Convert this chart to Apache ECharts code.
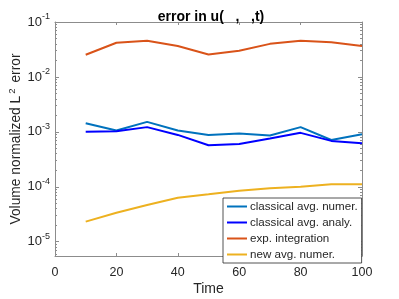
<!DOCTYPE html>
<html>
<head>
<meta charset="utf-8">
<script src="https://cdn.jsdelivr.net/npm/echarts@6/dist/echarts.min.js"></script>
<style>html,body{margin:0;padding:0;background:#fff}#c{width:399px;height:299px}</style>
</head>
<body>
<div id="c"></div>
<script>
var times = [10, 20, 30, 40, 50, 60, 70, 80, 90, 100];
var classicalNumer = [1.44e-3, 1.06e-3, 1.52e-3, 1.06e-3, 8.8e-4, 9.3e-4, 8.6e-4, 1.22e-3, 7.1e-4, 9.05e-4];
var classicalAnaly = [1.0e-3, 1.03e-3, 1.22e-3, 8.8e-4, 5.7e-4, 6.0e-4, 7.55e-4, 9.6e-4, 6.85e-4, 6.2e-4];
var expIntegration = [0.0253, 0.042, 0.0456, 0.0365, 0.0257, 0.030, 0.040, 0.0456, 0.0426, 0.0365];
var newAvgNumer = [2.32e-5, 3.38e-5, 4.67e-5, 6.34e-5, 7.3e-5, 8.5e-5, 9.4e-5, 1.0e-4, 1.11e-4, 1.11e-4];
var seriesNames = ['classical avg. numer.', 'classical avg. analy.', 'exp. integration', 'new avg. numer.'];
var xTicks = [0, 20, 40, 60, 80, 100];
var yMajor = [1e-5, 1e-4, 1e-3, 1e-2, 1e-1];
var yMin = 5.5e-6, yMax = 0.1;

var yMinor = [];
for (var e = -6; e <= -2; e++) {
  for (var k = 2; k <= 9; k++) {
    var v = k * Math.pow(10, e);
    if (v > yMin && v < yMax) yMinor.push(v);
  }
}

function pairs(ys) { return times.map(function (t, i) { return [t, ys[i]]; }); }

var axisGray = '#8c8c8c';
var textCol = '#262626';
var font = 'Liberation Sans, Arial, sans-serif';

function yAx(pos, ticks, len, showLine, showLabel) {
  return {
    type: 'log', position: pos, min: yMin, max: yMax, logBase: 10,
    axisLine: { show: showLine, lineStyle: { color: axisGray, width: 1 } },
    axisTick: { show: true, inside: true, length: len, customValues: ticks, lineStyle: { color: axisGray } },
    splitLine: { show: false },
    axisLabel: {
      show: showLabel, customValues: yMajor, margin: 5, color: textCol, fontFamily: font,
      formatter: function (val) {
        var ex = Math.round(Math.log10(val));
        return '{b|10}{s|' + ex + '}';
      },
      rich: {
        b: { fontSize: 13, fontFamily: font, color: textCol },
        s: { fontSize: 9, fontFamily: font, color: textCol, verticalAlign: 'bottom', padding: [0, 0, 10, 0] }
      }
    }
  };
}

var chart = echarts.init(document.getElementById('c'), null, { renderer: 'canvas' });
chart.setOption({
  animation: false,
  backgroundColor: '#fff',
  title: {
    text: 'error in u(   ,   ,t)', left: 206, top: 5, textAlign: 'center',
    textStyle: { fontSize: 14, fontWeight: 'bold', color: '#000', fontFamily: font }
  },
  grid: { left: 55, right: 37, top: 22, bottom: 43, containLabel: false, outerBoundsMode: 'none' },
  legend: {
    data: seriesNames, orient: 'vertical', left: 223, top: 198,
    backgroundColor: '#fff', borderColor: '#262626', borderWidth: 0.8,
    padding: [2, 4, 2, 4], itemGap: 3, itemWidth: 20, itemHeight: 2, icon: 'rect',
    textStyle: { fontSize: 11.6, fontFamily: font, color: textCol, lineHeight: 13, padding: [0, 0, 0, -2] }
  },
  xAxis: [{
    type: 'value', min: 0, max: 100, interval: 20, position: 'bottom',
    name: 'Time', nameLocation: 'middle', nameGap: 26, nameMoveOverlap: false,
    nameTextStyle: { fontSize: 14, color: textCol, fontFamily: font },
    axisLine: { lineStyle: { color: axisGray } },
    axisTick: { inside: true, length: 3, lineStyle: { color: axisGray } },
    splitLine: { show: false },
    axisLabel: { fontSize: 12.5, color: textCol, fontFamily: font, margin: 10 }
  }, {
    type: 'value', min: 0, max: 100, interval: 20, position: 'top',
    axisLine: { show: true, lineStyle: { color: axisGray } },
    axisTick: { inside: true, length: 3, lineStyle: { color: axisGray } },
    splitLine: { show: false }, axisLabel: { show: false }
  }],
  yAxis: [
    (function () {
      var a = yAx('left', yMajor, 4, true, true);
      a.name = 'Volume normalized L{s|2} error';
      a.nameLocation = 'middle';
      a.nameGap = 29;
      a.nameMoveOverlap = false;
      a.nameRotate = 90;
      a.nameTextStyle = {
        fontSize: 13.8, color: textCol, fontFamily: font,
        rich: { s: { fontSize: 9.5, fontFamily: font, color: textCol, verticalAlign: 'bottom', padding: [0, 2, 9, 2] } }
      };
      return a;
    })(),
    yAx('left', yMinor, 2, false, false),
    yAx('right', yMajor, 4, true, false),
    yAx('right', yMinor, 2, false, false)
  ],
  series: [
    { name: seriesNames[0], type: 'line', data: pairs(classicalNumer), showSymbol: false, symbol: 'none', lineStyle: { color: '#0072BD', width: 2 }, itemStyle: { color: '#0072BD' } },
    { name: seriesNames[1], type: 'line', data: pairs(classicalAnaly), showSymbol: false, symbol: 'none', lineStyle: { color: '#0000FF', width: 2 }, itemStyle: { color: '#0000FF' } },
    { name: seriesNames[2], type: 'line', data: pairs(expIntegration), showSymbol: false, symbol: 'none', lineStyle: { color: '#D95319', width: 2 }, itemStyle: { color: '#D95319' } },
    { name: seriesNames[3], type: 'line', data: pairs(newAvgNumer), showSymbol: false, symbol: 'none', lineStyle: { color: '#EDB120', width: 2 }, itemStyle: { color: '#EDB120' } }
  ]
});
</script>
</body>
</html>
